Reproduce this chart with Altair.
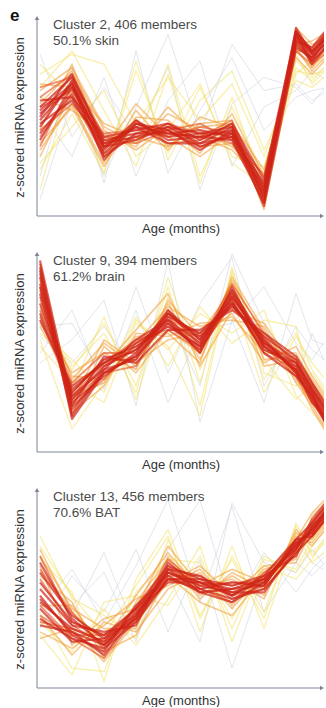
import altair as alt
import pandas as pd

# Sampling ages (months) shared by every profile
AGE_MONTHS = [1, 3, 5, 7, 9, 11, 13, 15, 17, 18, 19]

CLUSTER_IDS = [2, 9, 13]
MEMBER_COUNTS = [406, 394, 456]
TOP_TISSUE_SHARE = ["50.1%", "61.2%", "70.6%"]
TOP_TISSUE = ["skin", "brain", "BAT"]

# Membership tiers, drawn from the faint outliers up to the cluster core
TIERS = ["outlier", "low", "mid", "midhigh", "high"]
TIER_COLORS = {"outlier": "#c6ccd8", "low": "#f3df60", "mid": "#f09a32",
               "midhigh": "#e4501f", "high": "#cf2418"}
TIER_OPACITY = {"outlier": 0.5, "low": 0.5, "mid": 0.55, "midhigh": 0.6, "high": 0.7}
TIER_WIDTH = {"outlier": 1.0, "low": 1.3, "mid": 1.6, "midhigh": 1.8, "high": 2.2}

# z-scored member profiles of cluster 2
C2_HIGH = [
    [-0.1, 1.0, -0.9, -0.3, -0.5, -0.6, -0.4, -2.3, 2.5, 1.9, 2.5],
    [0.3, 1.2, -0.7, -0.5, -0.3, -0.8, -0.6, -2.0, 2.3, 1.8, 2.3],
    [-0.5, 0.7, -1.1, -0.2, -0.6, -0.5, -0.3, -2.5, 2.6, 2.0, 2.6],
    [0.1, 0.9, -0.8, -0.6, -0.4, -0.9, -0.5, -2.2, 2.2, 1.7, 2.2],
    [-0.3, 1.1, -1.0, -0.1, -0.7, -0.6, -0.7, -2.6, 2.4, 2.0, 2.4],
    [0.5, 0.6, -0.6, -0.4, -0.2, -0.7, -0.2, -1.9, 2.6, 1.7, 2.5],
    [-0.7, 0.9, -1.2, -0.5, -0.5, -0.4, -0.6, -2.4, 2.3, 2.1, 2.7],
    [0.0, 1.3, -0.8, -0.3, -0.8, -0.8, -0.3, -2.1, 2.5, 1.6, 2.2],
    [-0.2, 0.5, -0.9, -0.7, -0.3, -0.5, -0.5, -2.3, 2.7, 1.9, 2.6],
    [0.2, 1.0, -1.3, -0.2, -0.4, -1.0, -0.4, -2.7, 2.1, 1.8, 2.3],
]
C2_MIDHIGH = [
    [0.6, 1.3, -0.6, -0.7, -0.2, -0.5, -0.8, -2.1, 2.3, 1.7, 2.1],
    [-0.6, 0.6, -1.2, -0.1, -0.8, -0.7, -0.2, -2.5, 2.5, 2.1, 2.6],
    [0.3, 0.8, -0.5, -0.4, -0.6, -0.3, -0.5, -1.8, 2.4, 1.9, 2.3],
    [-0.9, 1.1, -1.1, -0.6, -0.2, -0.9, -0.6, -2.6, 2.2, 1.8, 2.5],
    [0.9, 1.2, -0.9, -0.2, -0.5, -0.6, -0.1, -2.2, 2.0, 1.6, 2.0],
    [-0.4, 0.4, -0.7, -0.8, -0.4, -0.2, -0.7, -2.4, 2.6, 2.0, 2.4],
]
C2_MID = [
    [0.8, 1.5, -0.3, -0.8, 0.1, -0.4, -0.9, -1.7, 2.0, 1.5, 2.0],
    [-1.0, 0.4, -1.4, 0.2, -0.9, -0.2, -0.1, -2.6, 2.7, 2.2, 2.4],
    [0.4, 1.4, -0.4, -1.0, -0.3, -1.1, 0.1, -1.8, 2.1, 1.4, 1.9],
    [-0.8, 0.3, -1.5, 0.0, -0.1, -0.9, -0.8, -2.5, 2.2, 2.3, 2.6],
    [1.0, 0.9, -0.2, -0.6, -0.9, -0.3, -0.2, -1.6, 1.8, 1.3, 1.8],
    [-0.4, 1.6, -1.0, 0.4, -0.6, -1.2, -0.5, -2.2, 2.4, 1.6, 2.1],
    [0.6, 0.2, -0.5, -0.9, 0.3, -0.6, -1.0, -2.0, 2.6, 1.5, 2.2],
    [-1.2, 0.8, -0.9, -0.1, -1.0, 0.0, -0.3, -2.8, 2.0, 2.0, 2.5],
]
C2_LOW = [
    [1.3, 1.9, 1.6, -0.2, 1.2, -0.1, 1.0, -1.2, 1.5, 1.1, 1.6],
    [-1.6, 0.1, -1.7, 1.4, -1.1, 0.9, -1.2, -1.5, 1.4, 1.3, 1.4],
    [0.9, 2.0, 0.2, -1.5, 1.3, -2.0, 0.6, -2.2, 1.9, 1.0, 1.5],
    [-1.4, -0.3, 0.8, -1.2, -0.4, 1.0, -1.4, -2.1, 1.3, 1.7, 1.7],
    [1.6, 0.6, -1.7, 1.7, -1.3, 0.5, 1.4, -1.0, 1.1, 0.9, 1.3],
    [-2.2, 1.2, -0.6, -0.8, 1.6, -1.8, 0.3, -1.8, 1.7, 1.2, 1.6],
]
C2_OUTLIER = [
    [-2.5, 0.5, -1.8, 0.3, 2.5, -0.5, 2.2, 0.8, 1.0, 0.5, 0.8],
    [0.2, -1.2, 1.2, -1.8, 0.5, 1.7, -1.5, 0.3, 0.8, 1.4, 1.1],
    [-1.8, 1.5, -2.0, 2.0, -1.7, 0.2, 1.8, -0.4, 0.6, 0.8, 0.9],
    [1.9, -0.6, 0.9, -0.6, 1.5, -2.2, 0.4, 1.2, 0.9, 0.4, 1.0],
]

# z-scored member profiles of cluster 9
C9_HIGH = [
    [2.0, -1.4, -0.4, 0.1, 1.0, 0.3, 1.7, 0.3, -0.5, -1.2, -2.0],
    [2.6, -1.7, -0.6, -0.1, 1.2, 0.5, 1.5, 0.1, -0.3, -1.0, -1.8],
    [1.5, -1.2, -0.2, 0.2, 0.8, 0.2, 1.9, 0.4, -0.6, -1.4, -2.2],
    [2.3, -1.9, -0.5, -0.2, 1.1, 0.6, 1.4, 0.5, -0.2, -1.1, -1.9],
    [1.2, -1.1, -0.3, 0.3, 0.9, 0.1, 1.6, 0.0, -0.7, -1.3, -2.1],
    [2.8, -1.5, -0.7, 0.0, 1.3, 0.4, 1.8, 0.2, -0.4, -1.2, -2.3],
    [1.8, -1.6, -0.1, -0.3, 0.7, 0.7, 1.3, 0.6, -0.1, -0.9, -1.7],
    [2.1, -1.3, -0.5, 0.4, 1.0, 0.0, 2.0, 0.2, -0.5, -1.5, -2.0],
    [1.0, -1.0, -0.3, 0.1, 1.2, 0.4, 1.5, 0.3, -0.3, -1.1, -1.8],
    [2.5, -2.0, -0.6, -0.1, 0.9, 0.2, 1.7, 0.4, -0.6, -1.3, -2.2],
]
C9_MIDHIGH = [
    [1.7, -1.2, -0.2, -0.2, 1.3, 0.2, 1.9, 0.1, -0.4, -1.1, -1.9],
    [2.4, -1.6, -0.8, 0.3, 0.8, 0.5, 1.4, 0.5, -0.6, -1.4, -2.3],
    [1.3, -0.9, 0.0, 0.0, 1.1, 0.0, 1.8, 0.3, -0.2, -0.9, -1.6],
    [2.7, -1.8, -0.4, 0.2, 1.0, 0.6, 1.6, 0.0, -0.5, -1.3, -2.1],
    [1.9, -1.4, -0.6, -0.4, 1.2, 0.3, 2.1, 0.6, -0.3, -1.2, -2.0],
    [1.1, -1.3, -0.3, 0.4, 0.7, 0.1, 1.5, 0.2, -0.7, -1.5, -2.2],
]
C9_MID = [
    [1.6, -0.8, 0.3, -0.4, 1.5, -0.2, 2.1, -0.2, -0.1, -0.8, -1.5],
    [2.4, -1.8, -1.0, 0.6, 0.5, 0.9, 1.0, 0.8, -0.9, -1.6, -2.4],
    [0.9, -0.6, 0.0, -0.5, 1.6, 0.5, 1.2, -0.3, 0.2, -0.7, -1.4],
    [2.2, -1.3, -0.9, 0.5, 0.6, -0.3, 2.3, 0.7, -0.8, -1.5, -2.0],
    [1.4, -0.7, -0.8, 0.3, 1.4, 0.8, 1.1, 0.0, 0.0, -0.9, -1.6],
    [2.0, -1.9, 0.2, -0.6, 0.7, 0.0, 2.2, 0.5, -0.7, -1.7, -2.5],
    [0.8, -0.9, -0.4, 0.7, 1.8, -0.4, 1.3, 0.9, -0.5, -1.0, -1.7],
    [2.7, -1.5, 0.4, -0.3, 0.4, 0.6, 1.9, -0.4, -0.2, -1.4, -1.9],
]
C9_LOW = [
    [1.1, -0.5, 0.9, -1.0, 2.0, -0.9, 2.4, -0.8, 0.6, -0.5, -1.2],
    [0.6, -0.2, -1.2, 1.0, 0.1, 1.2, 0.6, 1.3, -1.3, -1.8, -2.3],
    [1.7, -1.1, 1.1, -1.4, 1.7, -1.6, 2.6, -0.6, -1.0, -0.6, -1.3],
    [0.4, -2.3, -0.9, 1.1, -0.4, 1.4, 0.3, 1.0, 0.8, -1.2, -1.6],
    [1.3, -0.4, 0.6, -1.2, 2.3, -0.5, 1.7, -1.2, 0.5, -0.3, -0.9],
    [0.2, -0.9, -1.5, 0.9, 0.2, -1.9, 2.5, -0.2, -1.4, -1.0, -1.8],
]
C9_OUTLIER = [
    [0.8, 0.9, -0.8, 2.0, -0.6, 1.5, 2.9, -1.0, 0.8, 0.1, -0.3],
    [-0.3, 0.4, 1.6, -1.6, 2.8, -2.1, 1.0, -1.5, 1.8, 0.4, 0.2],
    [0.5, -0.3, 0.8, -0.5, 1.2, -1.0, 3.0, 0.9, -0.9, 0.6, -0.5],
    [0.0, 1.3, -1.1, 1.3, -1.5, 0.7, 0.9, 2.0, 0.3, -0.2, 0.5],
]

# z-scored member profiles of cluster 13
C13_HIGH = [
    [-0.4, -1.2, -1.6, -0.8, 0.5, 0.1, -0.1, 0.2, 1.3, 1.8, 2.4],
    [0.2, -1.0, -1.4, -0.6, 0.7, 0.3, 0.1, 0.4, 1.5, 2.0, 2.6],
    [-0.9, -1.5, -1.8, -1.0, 0.3, 0.0, -0.3, 0.0, 1.1, 1.6, 2.2],
    [0.5, -0.8, -1.5, -0.9, 0.6, 0.4, -0.2, 0.3, 1.2, 1.9, 2.5],
    [-0.2, -1.4, -1.9, -0.5, 0.4, -0.1, 0.0, 0.1, 1.4, 1.7, 2.3],
    [-1.1, -1.3, -1.7, -0.7, 0.2, 0.2, -0.2, 0.4, 1.0, 1.9, 2.4],
    [0.0, -1.1, -1.3, -1.1, 0.8, 0.0, 0.2, 0.1, 1.5, 1.6, 2.2],
    [-0.6, -1.6, -1.5, -0.6, 0.3, 0.3, -0.1, -0.1, 1.2, 2.1, 2.7],
    [0.8, -0.9, -1.7, -0.9, 0.5, 0.2, 0.0, 0.3, 1.3, 1.8, 2.3],
    [-0.3, -1.3, -2.0, -0.8, 0.6, -0.1, -0.4, 0.2, 1.4, 1.7, 2.5],
]
C13_MIDHIGH = [
    [0.3, -1.1, -1.7, -0.7, 0.6, 0.2, 0.1, 0.3, 1.2, 1.9, 2.4],
    [-0.8, -1.4, -1.4, -1.0, 0.4, 0.4, -0.3, 0.1, 1.4, 1.7, 2.3],
    [0.6, -0.7, -1.8, -0.5, 0.7, -0.1, 0.0, 0.3, 1.3, 2.0, 2.6],
    [-0.5, -1.5, -2.1, -0.9, 0.3, 0.2, -0.2, 0.0, 1.1, 1.8, 2.5],
    [1.0, -1.0, -1.4, -0.8, 0.9, 0.1, 0.2, 0.2, 1.5, 1.6, 2.2],
    [-1.0, -1.2, -1.6, -0.6, 0.5, 0.0, -0.4, 0.5, 1.2, 2.0, 2.6],
]
C13_MID = [
    [1.0, -0.6, -1.2, -1.2, 1.0, -0.2, 0.4, -0.2, 1.6, 1.4, 2.0],
    [-1.3, -1.8, -1.1, -0.3, 0.1, 0.6, -0.5, 0.6, 0.9, 2.2, 2.7],
    [0.4, -0.4, -2.1, -0.4, 0.9, -0.3, 0.5, 0.0, 1.7, 1.5, 2.1],
    [-0.8, -2.0, -1.0, -1.3, 0.0, 0.5, -0.6, 0.5, 1.0, 2.0, 2.6],
    [1.2, -0.7, -1.6, -0.2, 1.1, 0.0, 0.3, -0.3, 1.8, 1.3, 1.9],
    [-1.5, -1.2, -2.2, -1.0, 0.2, 0.7, -0.2, 0.7, 0.8, 1.8, 2.4],
    [0.7, -1.7, -0.9, -0.6, 1.3, 0.1, 0.6, 0.2, 1.1, 1.6, 2.3],
    [-0.5, -0.5, -1.9, -1.4, 0.4, -0.4, -0.8, 0.4, 1.5, 2.3, 2.8],
]
C13_LOW = [
    [1.6, -0.3, -0.8, -1.5, 1.5, -0.9, 1.0, -0.7, 1.9, 1.0, 1.5],
    [-1.4, -2.6, -0.4, -0.2, -0.5, 1.0, -1.2, 1.0, 0.5, 1.3, 1.9],
    [0.9, -0.1, -2.8, 0.3, 1.8, -0.8, 0.9, -0.9, 2.0, 1.1, 1.6],
    [-1.0, -1.9, -0.6, -1.7, -0.3, 1.3, -1.6, 0.9, 0.6, 1.5, 2.1],
    [1.3, -0.2, -1.4, 0.1, 1.6, -1.3, 1.3, -1.2, 1.7, 0.8, 1.2],
    [-0.7, -2.4, -2.5, -0.1, 0.9, 0.8, -0.9, 0.7, 0.3, 0.9, 1.7],
]
C13_OUTLIER = [
    [-0.6, 0.6, -1.0, 0.7, 2.7, -0.4, 2.5, -0.7, 0.8, 0.4, 0.9],
    [0.3, -0.5, 0.5, -1.6, 1.2, 2.7, -0.6, 1.1, -0.1, 0.6, 1.1],
    [-1.2, 0.4, -0.7, 1.2, -1.3, 0.9, -2.4, 0.5, 1.4, 0.8, 0.5],
    [0.1, -0.8, 1.1, -1.3, 0.4, -1.6, 2.6, 0.8, 0.5, 1.2, 0.6],
]

CLUSTER_PROFILES = [
    {"high": C2_HIGH, "midhigh": C2_MIDHIGH, "mid": C2_MID, "low": C2_LOW,
     "outlier": C2_OUTLIER},
    {"high": C9_HIGH, "midhigh": C9_MIDHIGH, "mid": C9_MID, "low": C9_LOW,
     "outlier": C9_OUTLIER},
    {"high": C13_HIGH, "midhigh": C13_MIDHIGH, "mid": C13_MID, "low": C13_LOW,
     "outlier": C13_OUTLIER},
]

# Layout and style
FONT = "Liberation Sans"
AXIS_COLOR = "#7c8598"
TITLE_COLOR = "#333333"
PANEL_W = 287
PANEL_H = 198
X_DOMAIN = [0.8125, 18.75]       # 16 px per month
X_ARROW = 18.625
Y_DOMAIN = [-3.0, 3.0]

X_SCALE = alt.Scale(domain=X_DOMAIN, nice=False, zero=False)
Y_SCALE = alt.Scale(domain=Y_DOMAIN, nice=False, zero=False)
X_AXIS = alt.Axis(domain=False, ticks=False, labels=False, grid=False,
                  title="Age (months)", titleFont=FONT, titleFontSize=13,
                  titleFontWeight="normal", titleColor=TITLE_COLOR,
                  titlePadding=6, minExtent=0)
Y_AXIS = alt.Axis(domain=False, ticks=False, labels=False, grid=False,
                  title="z-scored miRNA expression", titleFont=FONT,
                  titleFontSize=13, titleFontWeight="normal",
                  titleColor=TITLE_COLOR, titlePadding=11, minExtent=0)


def xq(field):
    return alt.X(field, type="quantitative", scale=X_SCALE, axis=X_AXIS)


def yq(field):
    return alt.Y(field, type="quantitative", scale=Y_SCALE, axis=Y_AXIS)


def profile_table(profiles):
    rows = []
    for tier in TIERS:
        for k, prof in enumerate(profiles[tier]):
            for age, z in zip(AGE_MONTHS, prof):
                rows.append({"member": f"{tier}-{k}", "tier": tier, "age": age, "z": z})
    return pd.DataFrame(rows)


def panel(i):
    df = profile_table(CLUSTER_PROFILES[i])

    layers = []
    for tier in TIERS:
        layers.append(
            alt.Chart(df)
            .transform_filter(alt.datum.tier == tier)
            .mark_line(clip=True, color=TIER_COLORS[tier], opacity=TIER_OPACITY[tier],
                       strokeWidth=TIER_WIDTH[tier], strokeJoin="round")
            .encode(x=xq("age"), y=yq("z"), detail="member:N")
        )

    # axis lines with arrowheads
    axis_df = pd.DataFrame({"x0": [X_DOMAIN[0]], "x1": [X_ARROW],
                            "ylo": [Y_DOMAIN[0]], "yhi": [Y_DOMAIN[1]]})
    base = alt.Chart(axis_df)
    layers.append(base.mark_rule(color=AXIS_COLOR, strokeWidth=1)
                  .encode(x=xq("x0"), x2="x1:Q", y=yq("ylo")))
    layers.append(base.mark_rule(color=AXIS_COLOR, strokeWidth=1)
                  .encode(x=xq("x0"), y=yq("ylo"), y2="yhi:Q"))
    layers.append(base.mark_point(shape="triangle-right", filled=True, size=22,
                                  color=AXIS_COLOR, opacity=1)
                  .encode(x=xq("x1"), y=yq("ylo")))
    layers.append(base.mark_point(shape="triangle-up", filled=True, size=22,
                                  color=AXIS_COLOR, opacity=1)
                  .encode(x=xq("x0"), y=yq("yhi")))

    label_df = pd.DataFrame({"txt": [[
        f"Cluster {CLUSTER_IDS[i]}, {MEMBER_COUNTS[i]} members",
        f"{TOP_TISSUE_SHARE[i]} {TOP_TISSUE[i]}",
    ]]})
    layers.append(
        alt.Chart(label_df)
        .mark_text(align="left", baseline="top", font=FONT, fontSize=13.5,
                   color="#4a4a4a", lineHeight=16)
        .encode(x=alt.value(16), y=alt.value(0), text="txt")
    )

    if i == 0:
        layers.append(
            alt.Chart(pd.DataFrame({"tag": ["e"]}))
            .mark_text(align="left", baseline="alphabetic", font=FONT, fontSize=17,
                       fontWeight="bold", color="#111111")
            .encode(x=alt.value(-27), y=alt.value(3), text="tag")
        )

    return alt.layer(*layers).properties(width=PANEL_W, height=PANEL_H)


chart = (
    alt.vconcat(panel(0), panel(1), panel(2), spacing=16)
    .properties(padding={"left": 10, "top": 7, "right": 0, "bottom": 0},
                background="white")
    .configure_view(stroke=None)
)

chart.save("out.html", embed_options={"renderer": "svg", "actions": False})
